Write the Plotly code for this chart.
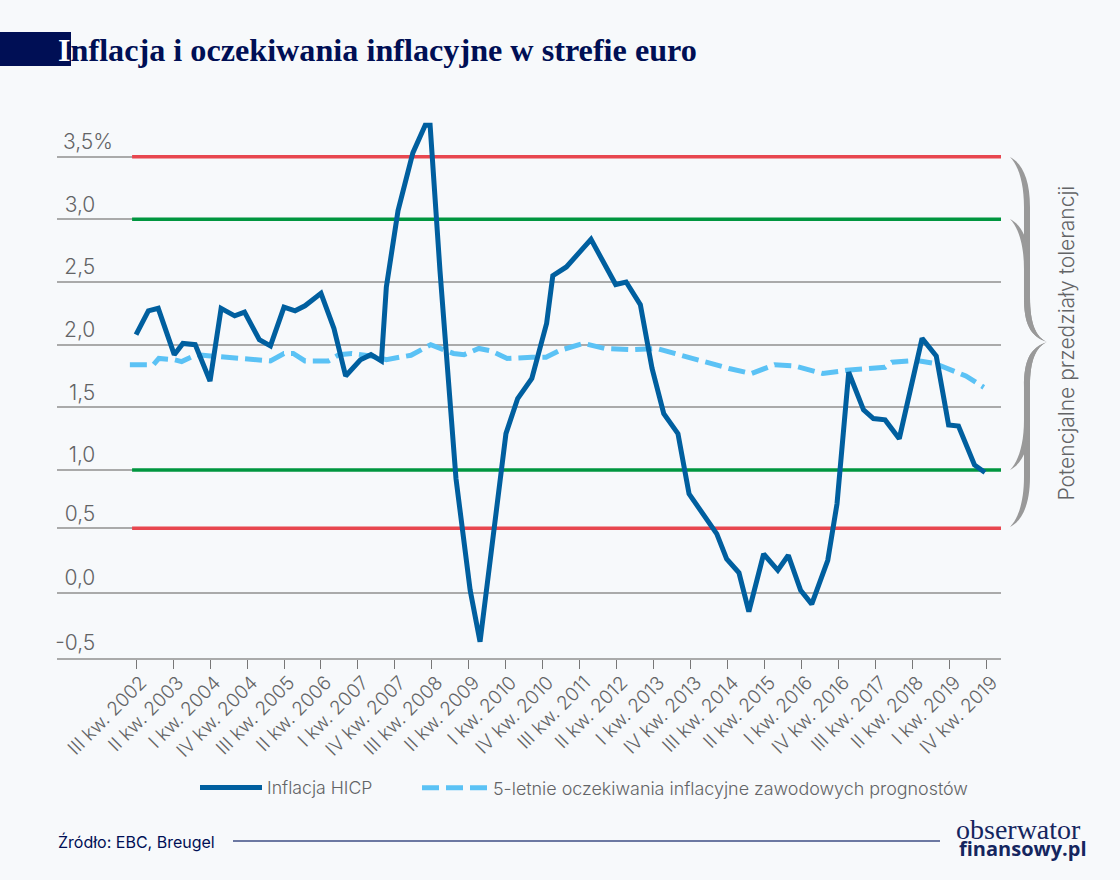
import plotly.graph_objects as go

# quarter position counted from III kw. 2002 = 0
hicp_q = [0, 1, 1.8, 3.1, 3.8, 4.8, 6, 6.9, 8, 8.8, 10, 10.9, 12, 12.9, 13.7, 15, 16.05, 17, 18.2, 19.05,
          19.9, 20.3, 21.25, 22.45, 23.45, 23.85, 24.65, 25.95, 27.1, 27.9, 30, 30.95, 32.1, 33.3, 33.8,
          34.9, 36.9, 38.9, 39.75, 40.9, 41.85, 42.8, 43.95, 44.85, 47.1, 47.9, 48.9, 49.7, 50.9, 52.05,
          52.9, 53.9, 54.8, 56.1, 56.85, 57.8, 59, 59.8, 60.75, 61.9, 63.75, 64.9, 65.9, 66.7, 68, 68.85]
hicp = [2.08, 2.27, 2.29, 1.92, 2.01, 2.00, 1.71, 2.29, 2.23, 2.26, 2.04, 1.99, 2.30, 2.27, 2.31, 2.41, 2.13, 1.75, 1.88, 1.92,
        1.87, 2.46, 3.07, 3.53, 3.75, 3.75, 2.59, 0.93, 0.04, -0.37, 1.29, 1.57, 1.73, 2.17, 2.55,
        2.62, 2.84, 2.48, 2.50, 2.32, 1.81, 1.45, 1.29, 0.81, 0.49, 0.29, 0.18, -0.13, 0.33, 0.20,
        0.32, 0.04, -0.07, 0.28, 0.73, 1.78, 1.48, 1.41, 1.40, 1.25, 2.05, 1.91, 1.36, 1.35, 1.04, 0.98]

expect_q = [-0.5, 1.4, 1.85, 3.1, 3.7, 4.9, 6.05, 10.1, 10.9, 12, 12.75, 13.7, 15.6, 16.45, 17.5, 19.05, 20.3,
            21.4, 22.3, 23.9, 25.75, 26.6, 27.8, 28.8, 30.1, 32.1, 33.25, 34.4, 36.3, 38, 40.2, 42.2, 44.15,
            46.1, 48.1, 49.9, 51.8, 53.4, 54.5, 55.7, 57.6, 59.5, 60.75, 61.3, 63.2, 64.8, 66.2, 67.3, 68.75]
expect = [1.84, 1.84, 1.89, 1.88, 1.865, 1.92, 1.91, 1.87, 1.87, 1.93, 1.93, 1.87, 1.87, 1.92, 1.93, 1.91, 1.88,
          1.90, 1.915, 2.0, 1.93, 1.92, 1.97, 1.95, 1.89, 1.90, 1.90, 1.955, 2.01, 1.97, 1.96, 1.97, 1.915,
          1.86, 1.81, 1.77, 1.84, 1.83, 1.80, 1.77, 1.795, 1.81, 1.82, 1.86, 1.875, 1.85, 1.795, 1.75, 1.66]

x_ticks = list(range(0, 70, 3))
x_labels = ["III kw. 2002", "II kw. 2003", "I kw. 2004", "IV kw. 2004", "III kw. 2005", "II kw. 2006",
            "I kw. 2007", "IV kw. 2007", "III kw. 2008", "II kw. 2009", "I kw. 2010", "IV kw. 2010",
            "III kw. 2011", "II kw. 2012", "I kw. 2013", "IV kw. 2013", "III kw. 2014", "II kw. 2015",
            "I kw. 2016", "IV kw. 2016", "III kw. 2017", "II kw. 2018", "I kw. 2019", "IV kw. 2019"]
# the lower lines sit a little off the regular grid in the original
y_ticks = [-0.5, 0.02, 0.535, 1, 1.5, 2, 2.5, 3, 3.5]
y_labels = ["-0,5", "0,0", "0,5", "1,0", "1,5", "2,0", "2,5", "3,0", "3,5%"]
red_levels = [0.535, 3.5]
green_levels = [1.0, 3.0]

NAVY = "#000f55"
GREY = "#636466"
BG = "#f7f9fb"
FONT = "Inter"

# plot area in page pixels
L, R, T, B = 57, 1001, 94, 658


def px(x):
    return (x - L) / (R - L)


def py(y):
    return (B - y) / (B - T)


def brace_path(top, bottom, tip):
    """Filled curly brace, arguments in page pixels"""
    pts = [
        ("M", [(1010, top)]),
        ("C", [(1022, top + 6), (1030, top + 22), (1030, top + 50)]),
        ("L", [(1030, tip - 45)]),
        ("C", [(1030, tip - 18), (1036, tip - 5), (1047, tip)]),
        ("C", [(1036, tip + 5), (1030, tip + 18), (1030, tip + 45)]),
        ("L", [(1030, bottom - 50)]),
        ("C", [(1030, bottom - 22), (1022, bottom - 6), (1010, bottom)]),
        ("C", [(1018, bottom - 8), (1024, bottom - 25), (1024, bottom - 50)]),
        ("L", [(1024, tip + 45)]),
        ("C", [(1024, tip + 18), (1030, tip + 6), (1047, tip)]),
        ("C", [(1030, tip - 6), (1024, tip - 18), (1024, tip - 45)]),
        ("L", [(1024, top + 50)]),
        ("C", [(1024, top + 25), (1018, top + 8), (1010, top)]),
    ]
    out = ""
    for cmd, coords in pts:
        out += cmd + " " + " ".join(f"{px(x):.5f},{py(y):.5f}" for x, y in coords) + " "
    return out + "Z"


fig = go.Figure()

for level in red_levels:
    fig.add_trace(go.Scatter(x=[-0.32, 70.15], y=[level, level], mode="lines", showlegend=False,
                             line=dict(color="#e8474f", width=3.5), hoverinfo="skip"))
for level in green_levels:
    fig.add_trace(go.Scatter(x=[-0.32, 70.15], y=[level, level], mode="lines", showlegend=False,
                             line=dict(color="#00963f", width=3.5), hoverinfo="skip"))

fig.add_trace(go.Scatter(x=expect_q, y=expect, mode="lines", legend="legend2",
                         name="5-letnie oczekiwania inflacyjne zawodowych prognostów",
                         line=dict(color="#5bc2f5", width=5, dash="17px,7px")))
fig.add_trace(go.Scatter(x=hicp_q, y=hicp, mode="lines", name="Inflacja HICP",
                         line=dict(color="#005f9f", width=5)))

fig.update_layout(
    width=1120, height=880, autosize=False,
    margin=dict(l=L, r=1120 - R, t=T, b=880 - B),
    paper_bgcolor=BG, plot_bgcolor=BG,
    font=dict(family=FONT, color=GREY, size=18),
    title=dict(text="<span style='color:white'>I</span>nflacja i oczekiwania inflacyjne w strefie euro",
               x=58 / 1120, xanchor="left", y=1 - 50 / 880, yanchor="middle",
               font=dict(family="Liberation Serif", size=32.2, color=NAVY, weight="bold")),
    legend=dict(x=px(195), y=py(788), xanchor="left", yanchor="middle", itemwidth=62,
                bgcolor="rgba(0,0,0,0)", font=dict(size=17.7, color=GREY, weight=300)),
    legend2=dict(x=px(417), y=py(788), xanchor="left", yanchor="middle", itemwidth=66,
                 bgcolor="rgba(0,0,0,0)", font=dict(size=17.9, color=GREY, weight=300)),
    xaxis=dict(range=[-6.41, 70.15], tickvals=x_ticks, ticktext=x_labels, tickangle=-45,
               ticks="outside", ticklen=9, tickwidth=1, tickcolor="#777777", showgrid=False,
               showline=True, linecolor="#aaaaaa", linewidth=2, zeroline=False,
               ticklabelstandoff=-5, ticklabelshift=5,
               tickfont=dict(size=19, color=GREY, weight=300)),
    yaxis=dict(range=[-0.5, 4.0], tickvals=y_ticks,
               ticktext=[t if t.endswith("%") else t + "\u00a0\u00a0\u00a0" for t in y_labels],
               showgrid=True, gridcolor="#aaaaaa", gridwidth=1.5, zeroline=False, showline=False, ticks="",
               ticklabelstandoff=-57, ticklabelshift=-15, tickfont=dict(size=21, color=GREY, weight=300)),
    shapes=[
        dict(type="rect", xref="paper", yref="paper", x0=px(0), x1=px(71), y0=py(32), y1=py(66),
             fillcolor=NAVY, line_width=0, layer="above"),
        dict(type="line", xref="paper", yref="paper", x0=px(233), x1=px(940), y0=py(841), y1=py(841),
             line=dict(color="#3e4c85", width=1.5)),
        dict(type="path", xref="paper", yref="paper", path=brace_path(157, 527, 342),
             fillcolor="#999999", line_width=0),
        dict(type="path", xref="paper", yref="paper", path=brace_path(219, 470, 342),
             fillcolor="#999999", line_width=0),
    ],
    annotations=[
        dict(text="Potencjalne przedziały tolerancji", xref="paper", yref="paper", x=px(1066), y=py(343.5),
             xanchor="center", yanchor="middle", textangle=-90, showarrow=False,
             font=dict(size=21, color=GREY, weight=300)),
        dict(text="Źródło: EBC, Breugel", xref="paper", yref="paper", x=px(56), y=py(842), xanchor="left",
             yanchor="middle", showarrow=False, font=dict(size=16, color=NAVY)),
        dict(text="obserwator", xref="paper", yref="paper", x=px(1018), y=py(829), xanchor="center",
             yanchor="middle", showarrow=False,
             font=dict(family="Liberation Serif", size=28, color="#15265f")),
        dict(text="finansowy.pl", xref="paper", yref="paper", x=px(1023), y=py(848), xanchor="center",
             yanchor="middle", showarrow=False,
             font=dict(family="Open Sans", size=20, color="#15265f", weight="bold")),
    ],
)

# page body has a default margin, the picture has to start at the corner
fig.write_html("out.html", config={"displayModeBar": False}, post_script="document.body.style.margin='0';")
